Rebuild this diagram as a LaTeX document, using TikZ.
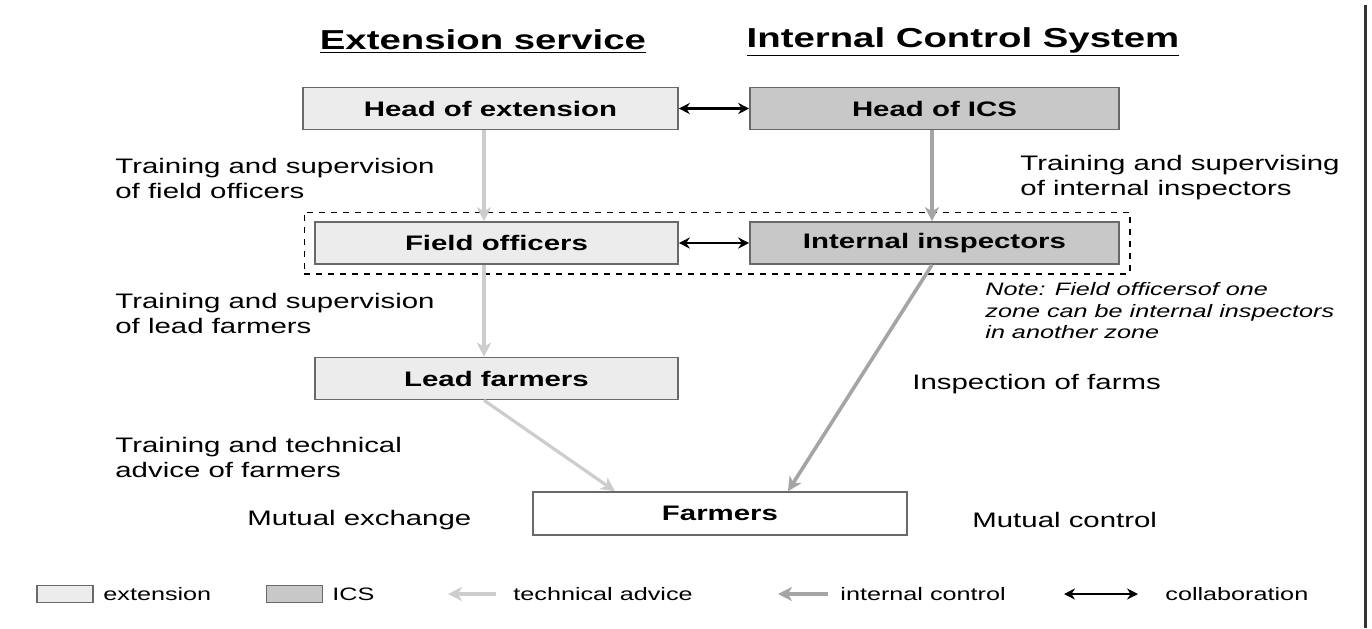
\documentclass[tikz,border=0pt]{standalone}
\usepackage{fontspec}
\setmainfont{Liberation Sans}[FakeStretch=1.4]
\usetikzlibrary{arrows.meta,fit}

\definecolor{extgray}{RGB}{236,236,236}
\definecolor{icsgray}{RGB}{200,200,200}
\definecolor{edgegray}{RGB}{105,105,105}
\definecolor{advicegray}{RGB}{205,205,205}
\definecolor{controlgray}{RGB}{165,165,165}

\tikzstyle{heading} = [font=\bfseries\fontsize{13.7}{16}\selectfont, inner sep=0pt]
\tikzstyle{box} = [rectangle, draw=edgegray, line width=0.8pt, text centered, font=\bfseries\fontsize{10.5}{12.5}\selectfont, minimum height=21pt, inner sep=0pt]
\tikzstyle{extbox} = [box, fill=extgray]
\tikzstyle{icsbox} = [box, fill=icsgray]
\tikzstyle{farmbox} = [box, fill=white, minimum width=187pt, minimum height=21.5pt]
\tikzstyle{remark} = [anchor=west, align=left, inner sep=0pt, font=\fontsize{10.5}{12.5}\selectfont]
\tikzstyle{notetext} = [anchor=west, align=left, inner sep=0pt, font=\itshape\fontsize{9}{10.75}\selectfont]
\tikzstyle{legendtext} = [anchor=west, inner sep=0pt, font=\fontsize{9}{11}\selectfont]
\tikzstyle{swatch} = [rectangle, draw=edgegray, line width=0.8pt, minimum width=28pt, minimum height=8.5pt, inner sep=0pt]
\tikzstyle{advice} = [draw=advicegray, line width=1.6pt, -{Stealth[length=7pt,width=7pt,inset=2pt]}]
\tikzstyle{control} = [draw=controlgray, line width=1.8pt, -{Stealth[length=7pt,width=7pt,inset=2pt]}]
\tikzstyle{collab} = [draw=black, line width=1.2pt, {Stealth[length=5.5pt,width=5.5pt]}-{Stealth[length=5.5pt,width=5.5pt]}]

\begin{document}
\begin{tikzpicture}[x=0.5pt, y=-0.5pt]

    \useasboundingbox (0,0) rectangle (1372,628);

    %  headings
    \node [heading] (ES) at (483,42) {\underline{Extension service}};
    \node [heading] (CS) at (963,42) {\underline{Internal Control System}};

    %-------------------------------------------------------------
    \node [extbox, minimum width=187.5pt] (HE) at (490.5,108.5) {Head of extension};
    \node [icsbox, minimum width=184.5pt] (HI) at (934.5,108.5) {Head of ICS};

    \node [extbox, minimum width=181.5pt] (FO) at (496.5,243) {Field officers};
    \node [icsbox, minimum width=184.5pt] (II) at (934.5,243) {Internal inspectors};
    \node [draw, dashed, line width=0.7pt, inner xsep=5pt, inner ysep=4.5pt, fit=(FO)(II)] (Z) {};

    \node [extbox, minimum width=181.5pt] (LF) at (496.5,378.5) {Lead farmers};
    \node [farmbox] (F) at (720,513.5) {Farmers};

    %-------------------------------------------------------------
    \node [remark] (T1) at (115,178) {Training and supervision\\of field officers};
    \node [remark] (T2) at (115,313) {Training and supervision\\of lead farmers};
    \node [remark] (T3) at (115,457) {Training and technical\\advice of farmers};
    \node [remark] (ME) at (247,520) {Mutual exchange};

    \node [remark] (T4) at (1020,178) {Training and supervising\\of internal inspectors};
    \node [notetext] (N) at (985,311) {Note: Field officersof one\\zone can be internal inspectors\\in another zone};
    \node [remark] (IF) at (912,384) {Inspection of farms};
    \node [remark] (MC) at (972,520) {Mutual control};

    % flows
    \draw [advice] ([xshift=-3.25pt]HE.south) -- ([xshift=-6.25pt]FO.north);
    \draw [advice] ([xshift=-6.25pt]FO.south) -- ([xshift=-6.25pt]LF.north);
    \draw [advice] ([xshift=-6.25pt]LF.south) -- ([xshift=-52.5pt]F.north);
    \draw [control] ([xshift=-1.25pt]HI.south) -- ([xshift=-1.25pt]II.north);
    \draw [control] ([xshift=-1.25pt]II.south) -- ([xshift=34pt]F.north);
    \draw [collab] (HE) -- (HI);
    \draw [collab] (FO) -- (II);

    %-----------------------------------------------
    % legend
    \node [swatch, fill=extgray] (LE) at (65,594) {};
    \node [legendtext] (LEt) at (103,594) {extension};
    \node [swatch, fill=icsgray] (LI) at (294.5,594) {};
    \node [legendtext] (LIt) at (332,594) {ICS};

    \coordinate (A1) at (496,594);
    \coordinate (A2) at (448,594);
    \draw [advice] (A1) -- (A2);
    \node [legendtext] (LAt) at (513,594) {technical advice};

    \coordinate (C1) at (828,594);
    \coordinate (C2) at (778,594);
    \draw [control] (C1) -- (C2);
    \node [legendtext] (LCt) at (840,594) {internal control};

    \coordinate (B1) at (1064,594);
    \coordinate (B2) at (1138,594);
    \draw [collab] (B1) -- (B2);
    \node [legendtext] (LBt) at (1165,594) {collaboration};

    % frame edge
    \draw [line width=1.5pt, black!80] (1365,5) -- (1365,628);

\end{tikzpicture}
\end{document}
